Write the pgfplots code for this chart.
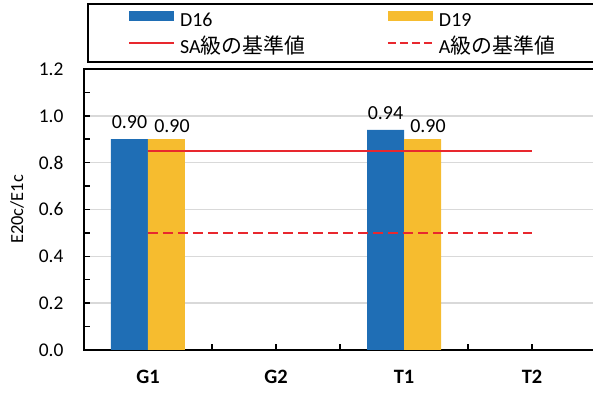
\documentclass[border=0pt]{standalone}
\usepackage{fontspec}
\setmainfont{Carlito}
\newfontfamily\cjk[Scale=1.05]{Noto Sans CJK JP}
\usepackage{pgfplots}
\pgfplotsset{compat=1.18}
\definecolor{cblue}{HTML}{1F6EB5}
\definecolor{cyellow}{HTML}{F6BC2F}
\definecolor{cred}{HTML}{E8282E}
\definecolor{cgrid}{HTML}{D9D9D9}
\begin{document}
\begin{tikzpicture}
\clip (-84bp,-44bp) rectangle (509bp,350bp);
\begin{axis}[
  at={(0,0)}, anchor=south west,
  scale only axis, width=512bp, height=281bp,
  xmin=-0.5, xmax=3.5, ymin=0, ymax=1.2,
  xtick={0,1,2,3}, xticklabels={G1,G2,T1,T2},
  minor xtick={0.5,1.5,2.5},
  ytick={0,0.2,0.4,0.6,0.8,1.0,1.2},
  minor ytick={0.1,0.3,0.5,0.7,0.9,1.1},
  tick pos=left, tick align=inside,
  major tick length=6bp, minor tick length=6bp,
  tick style={black, line width=1.5bp},
  axis line style={black, line width=1.8bp},
  ymajorgrids, grid style={cgrid, line width=1.5bp},
  yticklabel style={font=\fontsize{19.5}{21}\selectfont, xshift=-17bp},
  xticklabel style={font=\bfseries\fontsize{20.5}{22}\selectfont, yshift=-17bp},
  /pgf/number format/.cd, fixed, fixed zerofill, precision=1, assume math mode=true,
  /pgfplots/.cd,
  ylabel={E20c/E1c},
  every axis y label/.style={at={(axis description cs:0,0.5)}, xshift=-67bp, rotate=90, anchor=center, font=\fontsize{18.5}{20}\selectfont},
  legend columns=2,
  legend cell align=left,
  legend style={at={(axis description cs:0,0)}, anchor=north west, xshift=3bp, yshift=347bp,
    draw=black, line width=2bp, inner xsep=40bp, inner ysep=4bp, column sep=0pt, row sep=4bp,
    font=\fontsize{20}{22}\selectfont,
    nodes={inner xsep=5bp, inner ysep=2bp, text width=202bp, text height=17bp, text depth=2bp, align=left}},
]
\addplot[ybar, bar width=37bp, bar shift=-18.5bp, fill=cblue, draw=none,
  legend image code/.code={\fill[cblue] (0bp,-2bp) rectangle (45bp,8bp);},
  nodes near coords={\pgfmathprintnumber[fixed,fixed zerofill,precision=2,assume math mode=true]{\pgfplotspointmeta}},
  every node near coord/.append style={font=\fontsize{20}{22}\selectfont, black, xshift=-18.5bp, yshift=7bp}]
  coordinates {(0,0.90) (2,0.94)};
\addlegendentry{D16}
\addplot[ybar, bar width=37bp, bar shift=18.5bp, fill=cyellow, draw=none,
  legend image code/.code={\fill[cyellow] (0bp,-2bp) rectangle (45bp,8bp);},
  nodes near coords={\pgfmathprintnumber[fixed,fixed zerofill,precision=2,assume math mode=true]{\pgfplotspointmeta}},
  every node near coord/.append style={font=\fontsize{20}{22}\selectfont, black, xshift=24bp, yshift=3bp}]
  coordinates {(0,0.90) (2,0.90)};
\addlegendentry{D19}
\addplot[cred, line width=2bp,
  legend image code/.code={\draw[cred, line width=2bp] (0bp,3bp) -- (45bp,3bp);}]
  coordinates {(0,0.85) (3,0.85)};
\addlegendentry{SA{\cjk 級の基準値}}
\addplot[cred, line width=2bp, dash pattern=on 10bp off 5bp,
  legend image code/.code={\draw[cred, line width=2bp, dash pattern=on 8bp off 4bp] (0bp,3bp) -- (45bp,3bp);}]
  coordinates {(0,0.50) (3,0.50)};
\addlegendentry{A{\cjk 級の基準値}}
\end{axis}
\end{tikzpicture}
\end{document}
